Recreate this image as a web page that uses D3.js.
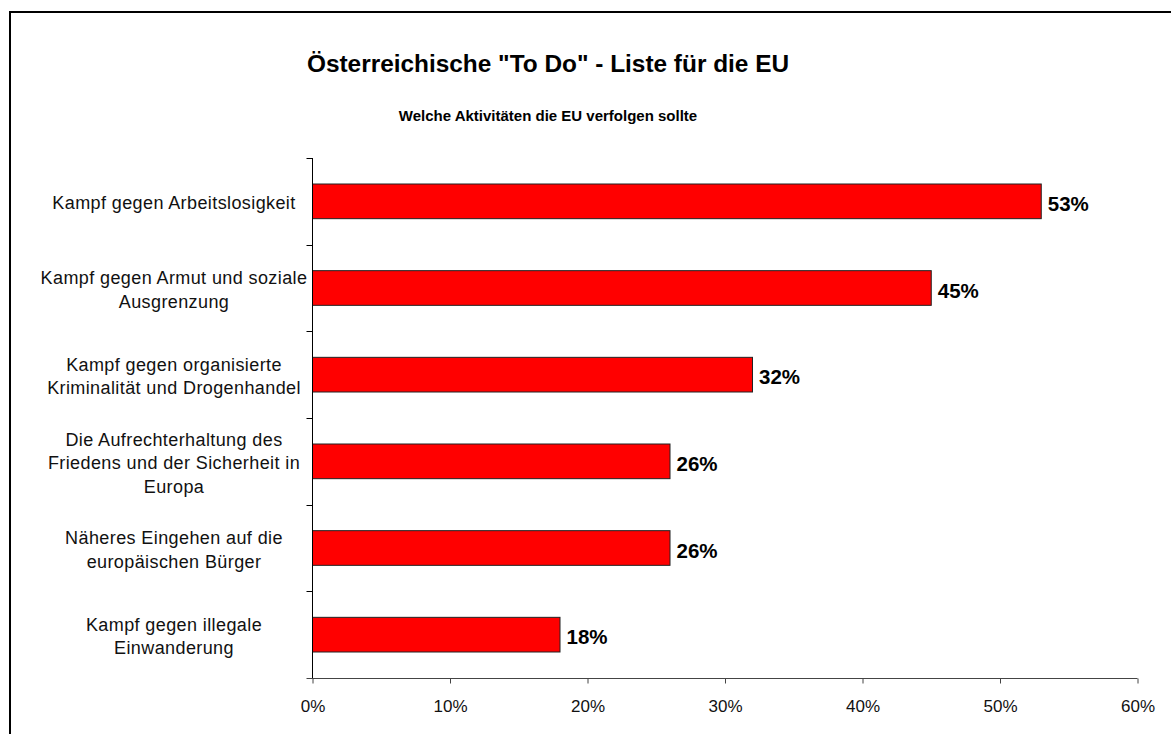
<!DOCTYPE html>
<html><head><meta charset="utf-8">
<script src="https://cdn.jsdelivr.net/npm/d3@7"></script>
<style>html,body{margin:0;background:#fff;overflow:hidden}svg{display:block}text{font-family:"Liberation Sans",Arial,sans-serif}</style>
</head><body><svg id="c" width="1171" height="734"></svg>
<script>
const categories = [
  ["Kampf gegen Arbeitslosigkeit"],
  ["Kampf gegen Armut und soziale", "Ausgrenzung"],
  ["Kampf gegen organisierte", "Kriminalität und Drogenhandel"],
  ["Die Aufrechterhaltung des", "Friedens und der Sicherheit in", "Europa"],
  ["Näheres Eingehen auf die", "europäischen Bürger"],
  ["Kampf gegen illegale", "Einwanderung"]
];
const values = [53, 45, 32, 26, 26, 18];
const xTicks = [0, 10, 20, 30, 40, 50, 60];
const title = 'Österreichische "To Do" - Liste für die EU';
const subtitle = "Welche Aktivitäten die EU verfolgen sollte";

const svg = d3.select("#c");
// frame (right and bottom edges lie outside the picture)
svg.append("path").attr("d","M10,734V12H1171").attr("fill","none").attr("stroke","#000").attr("stroke-width",2);

const pL = 312.5, pR = 1137.5, pT = 158, pB = 678;
const x = d3.scaleLinear().domain([0,60]).range([pL,pR]);
const y = d3.scaleBand().domain(d3.range(categories.length)).range([pT,pB]).paddingInner(0.6).paddingOuter(0.3);
const yb = d3.scaleLinear().domain([0,categories.length]).range([pT,pB]);

svg.append("text").attr("x",548).attr("y",72).attr("text-anchor","middle")
  .attr("font-size",24.4).attr("font-weight","bold").text(title);
svg.append("text").attr("x",548).attr("y",120.5).attr("text-anchor","middle")
  .attr("font-size",15).attr("font-weight","bold").text(subtitle);

svg.selectAll("rect.bar").data(values).join("rect").attr("class","bar")
  .attr("x",x(0)).attr("y",(d,i)=>y(i)).attr("width",d=>x(d)-x(0)).attr("height",y.bandwidth())
  .attr("fill","#ff0000").attr("stroke","#222").attr("stroke-width",1);

svg.selectAll("text.val").data(values).join("text").attr("class","val")
  .attr("x",d=>x(d)+6.5).attr("y",(d,i)=>y(i)+y.bandwidth()/2+9.5)
  .attr("font-size",20.5).attr("font-weight","bold").text(d=>d+"%");

svg.append("line").attr("x1",pL).attr("x2",pL).attr("y1",pT).attr("y2",pB).attr("stroke","#000");
svg.selectAll("line.yt").data(d3.range(categories.length)).join("line").attr("class","yt")
  .attr("x1",pL-6).attr("x2",pL).attr("y1",d=>Math.round(yb(d))+0.5).attr("y2",d=>Math.round(yb(d))+0.5).attr("stroke","#000");

const lh = 23.5;
categories.forEach((lines,i)=>{
  const cy = y(i)+y.bandwidth()/2;
  const t = svg.append("text").attr("text-anchor","middle").attr("font-size",18).attr("letter-spacing",0.4).attr("fill","#111");
  lines.forEach((l,j)=>{
    t.append("tspan").attr("x",174).attr("y",cy + 8 + (j-(lines.length-1)/2)*lh).text(l);
  });
});

const xa = svg.append("g").attr("transform",`translate(0,${pB+0.5})`)
  .call(d3.axisBottom(x).tickValues(xTicks).tickFormat(d=>d+"%").tickSize(5).tickSizeOuter(0).tickPadding(16));
xa.select(".domain").attr("stroke","#444").attr("d",`M${pL-6},0H${pR}`);
xa.selectAll(".tick line").attr("stroke","#444");
xa.selectAll("text").attr("font-size",17).attr("fill","#111").attr("font-family","Liberation Sans, Arial, sans-serif");
</script></body></html>
